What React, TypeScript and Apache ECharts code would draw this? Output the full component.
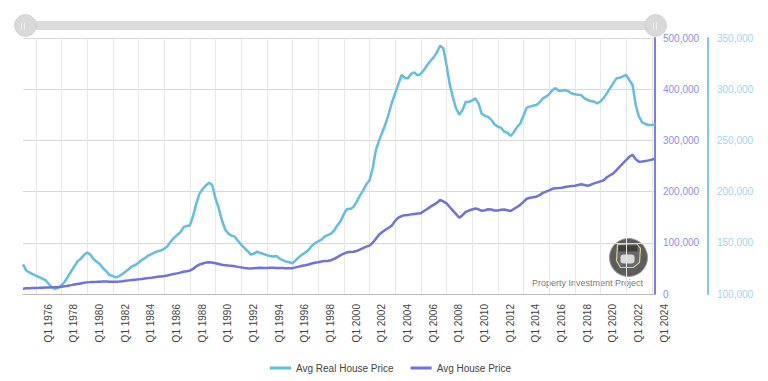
import React, { useEffect, useRef } from "react";
import * as echarts from "echarts";

const years: number[] = [];
for (let y = 1975; y <= 2024; y++) years.push(y);
const quarters: string[] = [];
years.forEach((y) => ["Q1", "Q2", "Q3", "Q4"].forEach((q) => quarters.push(q + " " + y)));
const categories = quarters.slice(0, 198);

const realPrice: number[] = [
  129000, 123000, 121000, 119500,
  118000, 116500, 115000, 113500,
  110000, 106500, 105000, 106000,
  108500, 112000, 117000, 122000,
  127000, 132000, 134500, 138000,
  140500, 138500, 134000, 131500,
  129000, 125000, 122000, 118500,
  117500, 116300, 117500, 119500,
  122000, 124500, 127000, 128300,
  130500, 133200, 135000, 137500,
  139000, 140500, 141800, 142500,
  144000, 146500, 151000, 154500,
  157600, 160000, 165000, 166500,
  167000, 176000, 188000, 198000,
  202500, 206000, 208700, 206400,
  193400, 184000, 172000, 163000,
  159000, 157000, 156000, 152000,
  148000, 145000, 142000, 138500,
  139500, 141300, 140000, 139000,
  138000, 137000, 136600, 137200,
  134500, 133000, 131700, 131000,
  130000, 133000, 136000, 138500,
  140500, 143000, 147000, 149500,
  151500, 153000, 156000, 157500,
  159000, 162000, 167000, 171000,
  178000, 183000, 183000, 185000,
  190000, 196000, 201000, 207000,
  211000, 222800, 240600, 250000,
  258000, 266000, 276000, 287000,
  296000, 305000, 313900, 311000,
  310600, 315000, 316500, 313500,
  315000, 319000, 323500, 327500,
  331000, 336000, 342500, 340000,
  324000, 305000, 292000, 281300,
  275000, 279700, 287800, 287500,
  289000, 291000, 286200, 276000,
  274000, 273000, 270000, 265500,
  263400, 262400, 258500, 257500,
  254300, 258000, 263000, 266500,
  274000, 282000, 283000, 283900,
  284600, 287000, 291000, 292700,
  295000, 299000, 301000, 298500,
  298500, 299200, 297800, 296000,
  295000, 294600, 294300, 291000,
  289500, 288500, 287800, 286200,
  288000, 291500, 296000, 301000,
  306000, 310600, 311200, 312500,
  313900, 309000, 304100, 284600,
  273100, 267700, 266000, 265000,
  265000, 265500,
];

const nominalPrice: number[] = [
  10400, 11000, 11300, 11600,
  11800, 12000, 12300, 12500,
  12700, 13000, 13300, 13600,
  14200, 15000, 16200, 17300,
  18500, 19600, 20700, 21800,
  22700, 23200, 23600, 23700,
  23900, 24200, 24300, 24000,
  23800, 24000, 24300, 24700,
  25800, 26600, 27300, 28000,
  28600, 29400, 30400, 31100,
  31700, 32600, 33600, 34400,
  35200, 36300, 37800, 39100,
  40300, 41700, 43500, 44500,
  45500, 49000, 54000, 57500,
  59500, 61300, 62000, 61500,
  60000, 58500, 57000, 56300,
  55500, 55000, 54000, 53000,
  52000, 51000, 50200, 50000,
  50500, 51000, 51400, 51000,
  51000, 51500, 51300, 51000,
  51000, 50800, 50500, 50100,
  50500, 52000, 53500, 55000,
  56000, 57500, 59500, 61000,
  62000, 63500, 64500, 64500,
  66000, 68500, 72000, 76000,
  79000, 81400, 82000, 82500,
  84000, 86500, 89500, 92500,
  94500, 100000, 108000, 116000,
  121000, 125500, 129500, 134000,
  143000, 149000, 152300, 154000,
  154500, 155500, 156300, 157000,
  157600, 162000, 166000, 170600,
  174000, 178000, 183600, 181000,
  177000, 170000, 163000, 156000,
  149000, 154000, 160500, 163000,
  165000, 167000, 165500, 162500,
  163500, 165500, 165000, 163000,
  163000, 164500, 165000, 163500,
  162000, 166000, 170000, 174000,
  180000, 186000, 188000, 189000,
  190000, 193000, 197500, 200000,
  202500, 205500, 206500, 207000,
  207600, 209000, 210000, 211000,
  211500, 213000, 214300, 213000,
  211500, 213500, 216000, 218000,
  220000, 222000, 228000, 232000,
  235700, 242000, 248700, 255000,
  261700, 268000, 272000, 263000,
  258400, 259000, 259800, 261000,
  262500, 263700,
];

const nominalTicks = { min: 0, max: 500000, interval: 100000 };
const realTicks = { min: 100000, max: 350000, interval: 50000 };

const FONT = 'Arial, "Liberation Sans", sans-serif';
const REAL_COLOR = "#63bee2";
const NOMINAL_COLOR = "#6f71e0";

const fmt = (v: number) => v.toLocaleString("en-US");

const handleMarks = (cx: number) => [
  { type: "line", z: 100, shape: { x1: cx - 1.5, y1: 22.5, x2: cx - 1.5, y2: 29.5 }, style: { stroke: "#f0f0f0", lineWidth: 1 } },
  { type: "line", z: 100, shape: { x1: cx + 1.5, y1: 22.5, x2: cx + 1.5, y2: 29.5 }, style: { stroke: "#f0f0f0", lineWidth: 1 } },
];

export default function App() {
  const ref = useRef<HTMLDivElement>(null);
  useEffect(() => {
    document.body.style.margin = "0";
    const chart = echarts.init(ref.current!, null, { renderer: "svg" });
    chart.setOption({
      animation: false,
      backgroundColor: "#ffffff",
      textStyle: { fontFamily: FONT },
      grid: { left: 23, right: 113, top: 38, bottom: 87, containLabel: false },
      dataZoom: [
        {
          type: "slider",
          xAxisIndex: 0,
          start: 0,
          end: 100,
          left: 23,
          right: 113,
          top: 21,
          height: 9,
          backgroundColor: "#dcdcdc",
          fillerColor: "rgba(220,220,220,1)",
          borderColor: "transparent",
          borderRadius: 4,
          showDataShadow: false,
          showDetail: false,
          brushSelect: false,
          moveHandleSize: 0,
          handleIcon: "circle",
          handleSize: "240%",
          handleStyle: { color: "#d9d9d9", borderColor: "#d0d0d0", borderWidth: 1 },
          emphasis: { handleStyle: { color: "#d9d9d9", borderColor: "#d0d0d0" } },
        },
      ],
      legend: {
        top: 358,
        left: 265,
        icon: "rect",
        itemWidth: 21,
        itemHeight: 3,
        itemGap: 17,
        textStyle: { color: "#444", fontSize: 10, fontFamily: FONT },
        data: ["Avg Real House Price", "Avg House Price"],
      },
      xAxis: {
        type: "category",
        data: categories,
        boundaryGap: false,
        axisLine: { lineStyle: { color: "#bbbbbb", width: 1 } },
        axisTick: { show: false },
        splitLine: {
          show: true,
          interval: (i: number) => i % 8 === 4,
          lineStyle: { color: "#e7e7e7", width: 1 },
        },
        axisLabel: {
          interval: (i: number) => i % 8 === 4,
          showMinLabel: true,
          showMaxLabel: true,
          rotate: 90,
          margin: 10,
          verticalAlign: "top",
          lineHeight: 25,
          color: "#444",
          fontSize: 10,
          fontFamily: FONT,
        },
      },
      yAxis: [
        {
          type: "value",
          name: "",
          position: "right",
          ...nominalTicks,
          axisLine: { show: true, lineStyle: { color: "#7b7fe8", width: 2 } },
          axisTick: { show: false },
          splitLine: { show: true, lineStyle: { color: "#d8d8d8", width: 1 } },
          axisLabel: { color: "#8d90ea", fontSize: 10, margin: 8, formatter: fmt, fontFamily: FONT },
        },
        {
          type: "value",
          name: "",
          position: "right",
          offset: 53,
          ...realTicks,
          axisLine: { show: true, lineStyle: { color: "#7ec8e9", width: 2 } },
          axisTick: { show: false },
          splitLine: { show: false },
          axisLabel: { color: "#9fd4ee", fontSize: 10, margin: 9, formatter: fmt, fontFamily: FONT },
        },
      ],
      series: [
        {
          name: "Avg Real House Price",
          type: "line",
          yAxisIndex: 1,
          data: realPrice,
          symbol: "none",
          smooth: false,
          lineStyle: { color: REAL_COLOR, width: 2.5 },
          itemStyle: { color: REAL_COLOR },
          z: 3,
        },
        {
          name: "Avg House Price",
          type: "line",
          yAxisIndex: 0,
          data: nominalPrice,
          symbol: "none",
          smooth: false,
          lineStyle: { color: NOMINAL_COLOR, width: 2.5 },
          itemStyle: { color: NOMINAL_COLOR },
          z: 4,
        },
      ],
      graphic: [
        ...handleMarks(23),
        ...handleMarks(655),
        {
          type: "group",
          right: 120,
          top: 238,
          children: [
            { type: "circle", shape: { cx: 0, cy: 19, r: 19 }, style: { fill: "#5d5d5d", stroke: "#9a9a9a", lineWidth: 1 } },
            {
              type: "polygon",
              shape: { points: [[-11, 6], [8, 5], [12, 10], [11, 24], [5, 29], [-8, 29], [-12, 22]] },
              style: { fill: "#6a6a6a", stroke: "#d8cf90", lineWidth: 1.2 },
            },
            { type: "rect", shape: { x: -8, y: 16, width: 14, height: 9, r: 3 }, style: { fill: "#d9d9d9" } },
            { type: "rect", shape: { x: -10, y: 7, width: 19, height: 6 }, style: { fill: "#3e3e3e" } },
          ],
        },
        {
          type: "text",
          right: 125,
          top: 278,
          style: { text: "Property Investment Project", fill: "#7a7a7a", fontSize: 9, fontFamily: FONT },
        },
      ],
    });
    return () => chart.dispose();
  }, []);
  return <div ref={ref} style={{ width: 768, height: 381 }} />;
}
